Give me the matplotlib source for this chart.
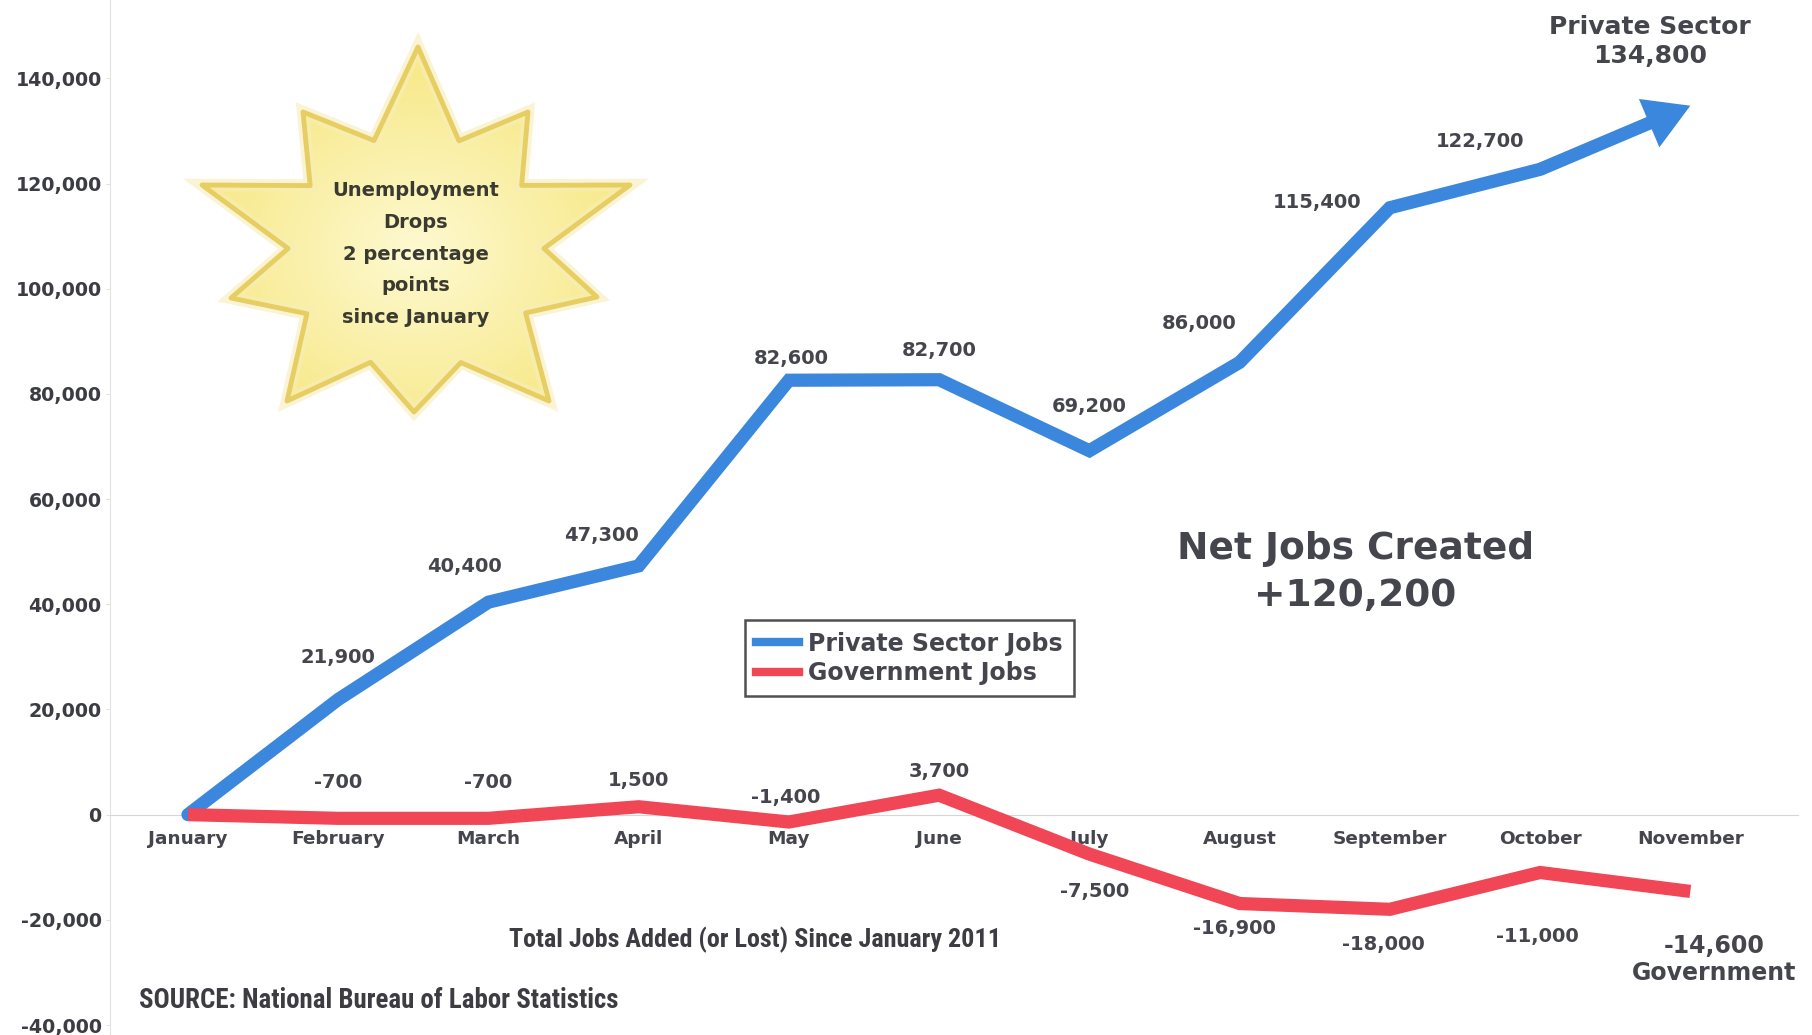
import matplotlib
matplotlib.use("Agg")
import matplotlib.pyplot as plt
import matplotlib.ticker as ticker
from matplotlib import font_manager as fm
from matplotlib.lines import Line2D
from matplotlib.patches import Polygon
import numpy as np

months = ['January', 'February', 'March', 'April', 'May', 'June', 'July',
          'August', 'September', 'October', 'November']
private_jobs = [0, 21900, 40400, 47300, 82600, 82700, 69200, 86000, 115400, 122700, 134800]
government_jobs = [0, -700, -700, 1500, -1400, 3700, -7500, -16900, -18000, -11000, -14600]
y_ticks = [-40000, -20000, 0, 20000, 40000, 60000, 80000, 100000, 120000, 140000]

BLUE = '#3b87dd'
RED = '#f04656'
TXT = '#45454d'

# where each value label sits, in points away from its point
private_off = [None, (0, 30), (-17, 26), (-27, 22), (2, 16), (0, 21), (0, 32),
               (-29, 28), (-52, 4), (-43, 20), None]
gov_off = [None, (0, 26), (0, 26), (0, 19), (-2, 18), (0, 17), (4, -27),
           (-4, -18), (-5, -25), (-2, -46), None]

fig = plt.figure(figsize=(18.12, 10.35), dpi=100)
ax = fig.add_axes([0.0607, 0, 0.9393, 1])
x = np.arange(len(months))

# private line stops at October, the last leg is an arrow
ax.plot(x[:-1], private_jobs[:-1], color=BLUE, lw=9.5, solid_joinstyle='miter',
        solid_capstyle='round', zorder=3)
ax.annotate('', xy=(x[-1], private_jobs[-1]), xytext=(x[-2], private_jobs[-2]),
            arrowprops=dict(arrowstyle='simple,head_length=1.15,head_width=1.35,tail_width=0.34',
                            mutation_scale=28, color=BLUE, lw=0, shrinkA=0, shrinkB=0),
            zorder=3)
ax.plot(x, government_jobs, color=RED, lw=9.5, solid_joinstyle='miter',
        solid_capstyle='butt', zorder=3)

for i in range(len(months)):
    if private_off[i]:
        ax.annotate(f'{private_jobs[i]:,}', (x[i], private_jobs[i]), xytext=private_off[i],
                    textcoords='offset points', ha='center', va='center',
                    fontsize=14, fontweight='bold', color=TXT, zorder=4)
    if gov_off[i]:
        ax.annotate(f'{government_jobs[i]:,}', (x[i], government_jobs[i]), xytext=gov_off[i],
                    textcoords='offset points', ha='center', va='center',
                    fontsize=14, fontweight='bold', color=TXT, zorder=4)

ax.annotate(f'Private Sector\n{private_jobs[-1]:,}', (x[-1], private_jobs[-1]), xytext=(-29, 46),
            textcoords='offset points', ha='center', va='center', fontsize=18,
            fontweight='bold', color=TXT, linespacing=1.28)
ax.annotate(f'{government_jobs[-1]:,}\nGovernment', (x[-1], government_jobs[-1]), xytext=(17, -49),
            textcoords='offset points', ha='center', va='center', fontsize=17,
            fontweight='bold', color=TXT, linespacing=1.19)

ax.set_xlim(-0.519, 10.81)
ax.set_ylim(-41900, 154900)
ax.spines['top'].set_visible(False)
ax.spines['right'].set_visible(False)
ax.spines['bottom'].set_position(('data', 0))
ax.spines['bottom'].set_bounds(-0.519, 10.72)
ax.spines['bottom'].set_color('#d6d6d6')
ax.spines['left'].set_color('#e2e2e2')

ax.set_xticks(x)
ax.set_xticklabels(months)
ax.set_yticks(y_ticks)
ax.yaxis.set_major_formatter(ticker.FuncFormatter(lambda v, p: f'{v:,.0f}'))
ax.tick_params(axis='x', length=0, pad=11, labelsize=13.3, labelcolor=TXT)
ax.tick_params(axis='y', length=3, width=0.8, color='#e0e0e0', pad=3, labelsize=13.7,
               labelcolor='#3c3c44')
for lab in ax.get_xticklabels() + ax.get_yticklabels():
    lab.set_fontweight('bold')

handles = [Line2D([], [], color=BLUE, lw=6), Line2D([], [], color=RED, lw=6)]
leg = fig.legend(handles, ['Private Sector Jobs', 'Government Jobs'], loc='upper left',
                 bbox_to_anchor=(0.4111, 0.4005), borderaxespad=0, fancybox=False,
                 handlelength=1.82, handletextpad=0.4, borderpad=0.47, labelspacing=0.22,
                 prop={'size': 17, 'weight': 'bold'}, framealpha=1)
leg.get_frame().set_edgecolor('#505050')
leg.get_frame().set_linewidth(1.8)
for t in leg.get_texts():
    t.set_color(TXT)

fig.text(0.748, 0.447, 'Net Jobs Created\n+120,200', ha='center', va='center',
         fontsize=27, fontweight='bold', color=TXT, linespacing=1.37)

# footer lines use a narrow face when one is installed
names = {f.name for f in fm.fontManager.ttflist}
narrow_kw = dict(family='Liberation Sans', fontweight='normal')
for cand in ['Liberation Sans Narrow', 'Arial Narrow', 'Roboto Condensed', 'Open Sans Condensed']:
    if cand in names:
        narrow_kw = dict(family=cand, fontweight='bold')
        break
else:
    if any(f.name == 'DejaVu Sans' and 'condensed' in str(f.stretch) for f in fm.fontManager.ttflist):
        narrow_kw = dict(family='DejaVu Sans', fontstretch='condensed', fontweight='bold')

foot1 = fig.text(0.4167, 0.0923, 'Total Jobs Added (or Lost) Since January 2011', ha='center',
                 va='center', fontsize=19, color='#3c3c42', **narrow_kw)
foot2 = fig.text(0.0767, 0.0331, 'SOURCE: National Bureau of Labor Statistics', ha='left',
                 va='center', fontsize=18.5, color='#3c3c42', **narrow_kw)
renderer = fig.canvas.get_renderer()
for t, width_px in [(foot1, 493), (foot2, 480)]:
    w = t.get_window_extent(renderer=renderer).width
    t.set_fontsize(t.get_fontsize() * width_px / w)

# starburst, drawn on an overlay in pixel units
ov = fig.add_axes([0, 0, 1, 1], zorder=5)
ov.axis('off')
ov.patch.set_alpha(0)

cx, cy = 416, 252
tips = np.array([(418, 47), (528, 112), (630, 185), (597, 297), (549, 401),
                 (414, 412), (287, 401), (231, 298), (202, 185), (303, 112)], float)
ang = np.arctan2(tips[:, 1] - cy, tips[:, 0] - cx)
pts = []
for k in range(len(tips)):
    pts.append(tips[k])
    a1, a2 = ang[k], ang[(k + 1) % len(tips)]
    d = np.angle(np.exp(1j * (a2 - a1)))
    am = a1 + d / 2
    pts.append((cx + 128 * np.cos(am), cy + 118 * np.sin(am)))
pts = np.array(pts)

glow = Polygon(pts, closed=True, facecolor='none', edgecolor='#f7eeb8', lw=9, alpha=0.6)
ov.add_patch(glow)
gx, gy = np.meshgrid(np.linspace(190, 640, 200), np.linspace(40, 420, 200))
r = np.clip(np.hypot((gx - cx) / 210, (gy - cy) / 180), 0, 1)
c0 = np.array([0.995, 0.978, 0.82])
c1 = np.array([0.97, 0.915, 0.55])
img = c0 + (c1 - c0) * r[..., None]
im = ov.imshow(img, extent=(190, 640, 420, 40), origin='upper', interpolation='bilinear')
fill = Polygon(pts, closed=True, facecolor='none', edgecolor='none')
ov.add_patch(fill)
im.set_clip_path(fill)
star = Polygon(pts, closed=True, facecolor='none', edgecolor='#e6ce62', lw=3.5,
               joinstyle='round')
ov.add_patch(star)
ov.set_xlim(0, 1812)
ov.set_ylim(1035, 0)
ov.text(cx, 254, 'Unemployment\nDrops\n2 percentage\npoints\nsince January', ha='center',
        va='center', fontsize=14, fontweight='bold', color='#3a3a30', linespacing=1.84)

fig.savefig('out.png', dpi=100)
